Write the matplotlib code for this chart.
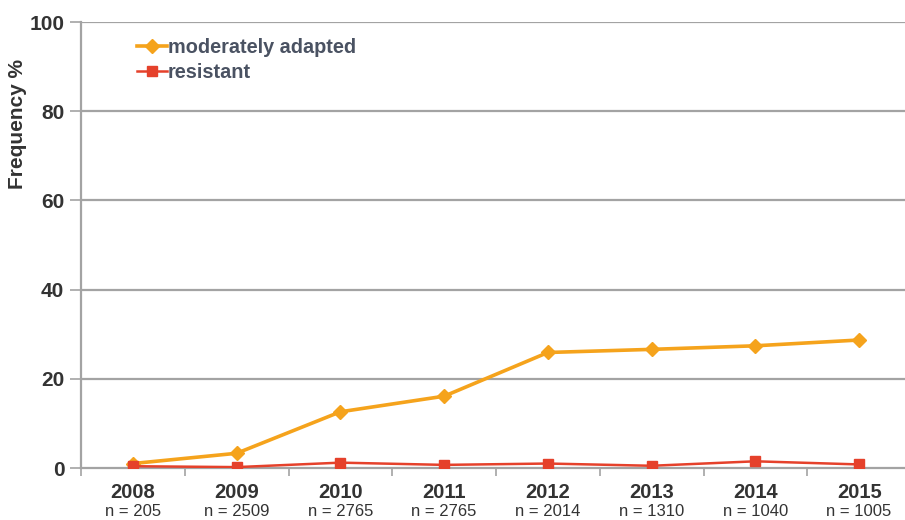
import matplotlib
matplotlib.use("Agg")
import matplotlib.pyplot as plt
import matplotlib.transforms as mtransforms

years = ["2008", "2009", "2010", "2011", "2012", "2013", "2014", "2015"]
n_labels = ["n = 205", "n = 2509", "n = 2765", "n = 2765", "n = 2014", "n = 1310", "n = 1040", "n = 1005"]
moderately_adapted = [1.0, 3.3, 12.6, 16.1, 25.9, 26.6, 27.4, 28.7]
resistant = [0.4, 0.2, 1.2, 0.7, 1.0, 0.5, 1.5, 0.8]
yticks = [0, 20, 40, 60, 80, 100]

plt.rcParams['font.family'] = ['Liberation Sans', 'DejaVu Sans']

W, H = 905, 520
fig = plt.figure(figsize=(W / 100, H / 100), dpi=100)
ax = fig.add_axes([81 / W, 52 / H, (911 - 81) / W, (468 - 22) / H])

x = list(range(len(years)))
grid_c = '#a3a3a3'
txt_c = '#333333'

for v in yticks[1:]:
    ax.axhline(v, color=grid_c, lw=1.6, zorder=1)

ax.plot(x, moderately_adapted, color='#f5a31c', lw=2.6, marker='D', ms=7,
        mec='#f5a31c', mfc='#f5a31c', label='moderately adapted', zorder=3)
ax.plot(x, resistant, color='#e5412b', lw=1.8, marker='s', ms=7,
        mec='#e5412b', mfc='#e5412b', label='resistant', zorder=4)

ax.set_xlim(-0.5, 7.5)
ax.set_ylim(0, 100)
ax.set_yticks(yticks)
ax.set_yticklabels([str(v) for v in yticks], fontsize=15, fontweight='bold', color=txt_c)
ax.tick_params(axis='y', length=8, width=1.2, color=grid_c, pad=4)

ax.set_xticks(x)
ax.set_xticklabels([])
ax.tick_params(axis='x', which='major', length=0)
ax.set_xticks([i - 0.5 for i in range(len(years) + 1)], minor=True)
ax.tick_params(axis='x', which='minor', length=6, width=1.2, color=grid_c)

trans = mtransforms.blended_transform_factory(ax.transData, fig.transFigure)
for i in x:
    ax.text(i, 1 - 493 / H, years[i], transform=trans, ha='center', va='center',
            fontsize=14.5, fontweight='bold', color=txt_c)
    ax.text(i, 1 - 512 / H, n_labels[i], transform=trans, ha='center', va='center',
            fontsize=12, color=txt_c)

for s in ['top', 'right']:
    ax.spines[s].set_visible(False)
ax.spines['left'].set_color(grid_c)
ax.spines['left'].set_linewidth(1.6)
ax.spines['bottom'].set_color(grid_c)
ax.spines['bottom'].set_linewidth(1.6)

fig.text(18 / W, 1 - 124 / H, 'Frequency %', rotation=90, ha='center', va='center',
         fontsize=15, fontweight='bold', color=txt_c)

leg = ax.legend(loc='upper left', bbox_to_anchor=(0.058, 0.982), frameon=False,
                prop={'size': 14.3, 'weight': 'bold'}, handlelength=1.5,
                handletextpad=0.05, labelspacing=0.3, borderaxespad=0)
for t in leg.get_texts():
    t.set_color('#4a5262')

fig.savefig('out.png', dpi=100)
